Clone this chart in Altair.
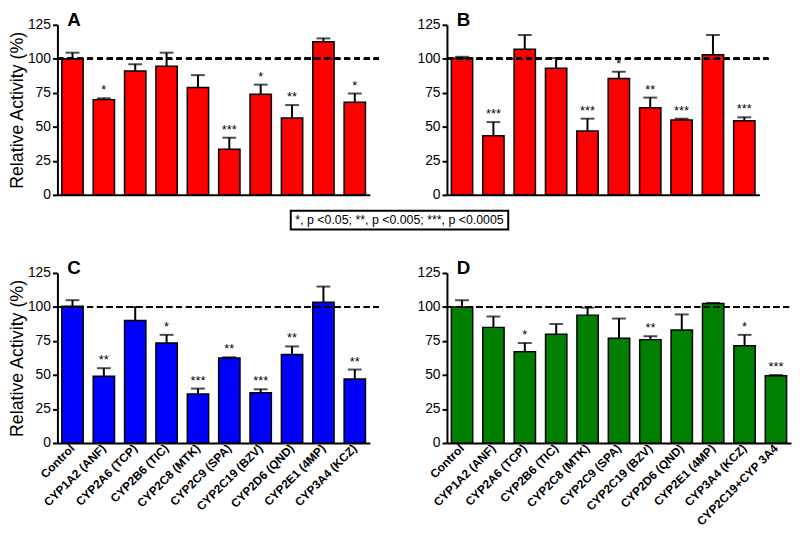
import altair as alt
import pandas as pd

FONT = "Liberation Sans"

cats10 = ["Control", "CYP1A2 (ANF)", "CYP2A6 (TCP)", "CYP2B6 (TIC)", "CYP2C8 (MTK)",
          "CYP2C9 (SPA)", "CYP2C19 (BZV)", "CYP2D6 (QND)", "CYP2E1 (4MP)", "CYP3A4 (KCZ)"]
cats11 = cats10 + ["CYP2C19+CYP 3A4"]

a_val = [100, 70, 91, 94.5, 79, 33.5, 74, 56.5, 112.5, 68]
a_err = [104.5, 71, 96, 104.5, 88, 42, 81, 66, 115, 74.5]
a_sig = ["", "*", "", "", "", "***", "*", "**", "", "*"]

b_val = [100.5, 43.5, 107, 93, 47, 85.5, 64, 55, 103, 54.5]
b_err = [101.5, 53.5, 117.5, 100.5, 56, 90.5, 71.5, 56, 117.5, 57]
b_sig = ["", "***", "", "", "***", "*", "**", "***", "", "***"]

c_val = [100.5, 49, 90, 73.5, 36, 62.5, 37, 65, 103.5, 47]
c_err = [105, 55, 100, 79.5, 40, 63, 39.5, 71, 115, 54]
c_sig = ["", "**", "", "*", "***", "**", "***", "**", "", "**"]

d_val = [100, 85, 67, 80, 94, 77, 76, 83, 102.5, 71.5, 49.5]
d_err = [105, 93, 73.5, 87.5, 99.5, 91.5, 78.5, 94.5, 103, 79.5, 50]
d_sig = ["", "", "*", "", "", "", "**", "", "", "*", "***"]

y_ticks = [0, 25, 50, 75, 100, 125]
legend_text = "*, p <0.05; **, p <0.005; ***, p <0.0005"

RED = "#ff0000"
BLUE = "#0000ff"
GREEN = "#007f00"


def panel(letter, cats, vals, errs, sigs, color, width, show_x, show_ytitle, overflow):
    df = pd.DataFrame({"cat": cats, "val": vals, "err": errs, "sig": sigs, "ref": [100] * len(cats)})
    xaxis = alt.Axis(
        title=None, labels=show_x, ticks=False, domainColor="black", domainWidth=2,
        labelAngle=315, labelAlign="right", labelBaseline="middle", labelPadding=3,
        labelFontSize=12, labelFontWeight="bold", labelColor="black", labelFont=FONT,
        labelOverlap=False, labelLimit=300,
    )
    xscale = alt.Scale(paddingInner=0.32, paddingOuter=0.14)
    yaxis = alt.Axis(
        values=y_ticks, title="Relative Activity (%)" if show_ytitle else None,
        grid=False, domainColor="black", domainWidth=2, tickColor="black", tickWidth=2,
        tickSize=5, labelFontSize=14, labelColor="black", labelFont=FONT, labelPadding=2,
        labelOverlap=False,
        titleFontSize=18, titleFontWeight="normal", titleColor="black", titleFont=FONT,
        titlePadding=1,
    )
    yscale = alt.Scale(domain=[0, 125], nice=False)

    def X():
        return alt.X("cat:N", sort=cats, scale=xscale, axis=xaxis)

    def Y(f):
        return alt.Y(f, scale=yscale, axis=yaxis)

    base = alt.Chart(df)
    bars = base.mark_bar(color=color, stroke="black", strokeWidth=1.5).encode(x=X(), y=Y("val:Q"))
    rule = base.mark_rule(color="black", strokeWidth=2).encode(x=X(), y=Y("val:Q"), y2="err:Q")
    cap = base.mark_tick(color="black", size=14, thickness=2).encode(x=X(), y=Y("err:Q"))
    stars = base.mark_text(baseline="bottom", dy=-1, fontSize=13, color="black", font=FONT).encode(
        x=X(), y=Y("err:Q"), text="sig:N")
    dash = base.mark_rule(color="black", strokeWidth=2, strokeDash=[6, 4]).encode(
        y=Y("ref:Q"), x=alt.value(0), x2=alt.value(width + overflow))
    return alt.layer(bars, rule, cap, dash, stars).properties(
        width=width, height=172,
        title=alt.TitleParams(letter, anchor="start", frame="group", dx=10, fontSize=19,
                              fontWeight="bold", font=FONT, color="black", offset=-12),
    )


A = panel("A", cats10, a_val, a_err, a_sig, RED, 316, False, True, 9)
B = panel("B", cats10, b_val, b_err, b_sig, RED, 316, False, False, 9)
C = panel("C", cats10, c_val, c_err, c_sig, BLUE, 316, True, True, 9)
D = panel("D", cats11, d_val, d_err, d_sig, GREEN, 348, True, False, 0)

leg_df = pd.DataFrame({"t": [legend_text]})
leg_box = alt.Chart(leg_df).mark_rect(fill="white", stroke="black", strokeWidth=2).encode(
    x=alt.value(236), x2=alt.value(456), y=alt.value(9), y2=alt.value(28))
leg_txt = alt.Chart(leg_df).mark_text(fontSize=12.5, color="black", font=FONT).encode(
    x=alt.value(346), y=alt.value(18.5), text="t:N")
legend = alt.layer(leg_box, leg_txt).properties(width=600, height=58)

row1 = alt.hconcat(A, B, spacing=37)
row2 = alt.hconcat(C, D, spacing=37)

chart = alt.vconcat(row1, legend, row2, spacing=0).properties(padding=0).configure_view(
    stroke=None).configure_concat(spacing=0)

chart.save("out.html", embed_options={"renderer": "svg", "actions": False})
